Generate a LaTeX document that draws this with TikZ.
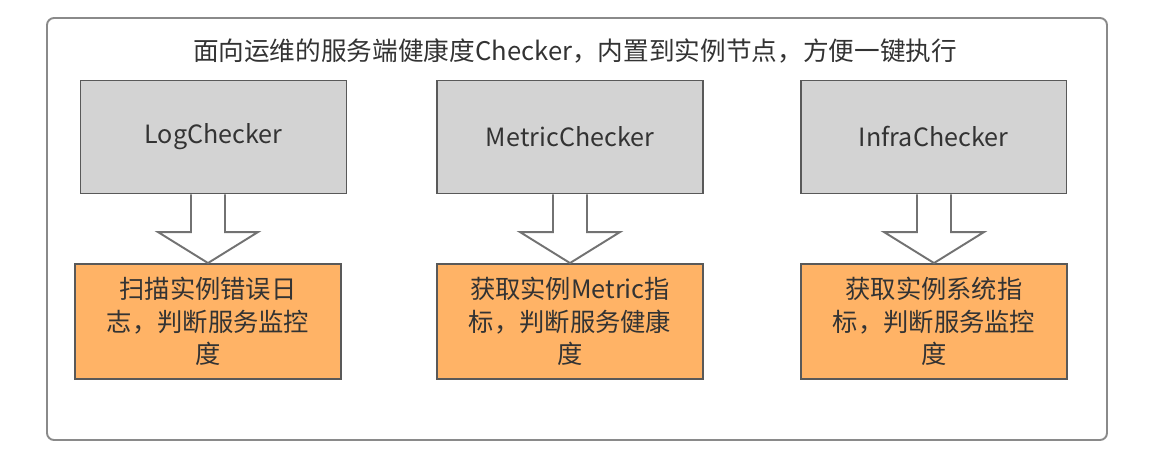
\documentclass[tikz,border=0pt]{standalone}
\usepackage{fontspec}
\setmainfont{Noto Sans CJK SC}
\usetikzlibrary{positioning,calc}

\definecolor{boxgray}{HTML}{D3D3D3}
\definecolor{boxorange}{HTML}{FFB366}
\definecolor{linegray}{HTML}{595959}
\definecolor{framegray}{HTML}{8A8A8A}
\definecolor{textgray}{HTML}{333333}

% hollow block arrow from a checker box down to its task box
\newcommand{\hollowarrow}[2]{%
	\draw[hollow] ($(#1.south -| #2.north)+(-17,0)$) -- ($(#2.north)+(-17,-31)$)
		-- ($(#2.north)+(-50,-31)$) -- (#2.north) -- ($(#2.north)+(50,-31)$)
		-- ($(#2.north)+(17,-31)$) -- ($(#1.south -| #2.north)+(17,0)$);}

\begin{document}
\begin{tikzpicture}[x=0.02cm,y=-0.02cm,
		checker/.style={draw=linegray,line width=1.1pt,fill=boxgray,text=textgray,
			minimum width=5.32cm,minimum height=2.26cm,inner sep=0pt,
			font=\fontsize{14.3}{18}\selectfont},
		task/.style={draw=linegray,line width=1.1pt,fill=boxorange,text=textgray,
			minimum width=5.32cm,minimum height=2.3cm,inner sep=0pt,align=center,
			font=\fontsize{14.4}{18.4}\selectfont},
		hollow/.style={draw=linegray!85,line width=1.1pt,fill=white,line join=miter}]

		\useasboundingbox (0,0) rectangle (1170,466);

		% Outer frame
		\draw[framegray,line width=1.1pt,rounded corners=4pt] (47,18) rectangle (1107,440);

		% Title
		\node[text=textgray,font=\fontsize{14.6}{18}\selectfont] (title) at (575,51)
			{面向运维的服务端健康度Checker，内置到实例节点，方便一键执行};

		% Checkers
		\node[checker] (log) at (213.5,137) {LogChecker};
		\node[checker] (metric) at (570,137) {MetricChecker};
		\node[checker] (infra) at (933.5,137) {InfraChecker};

		% Tasks
		\node[task] (logtask) at (208,321.5) {扫描实例错误日\\志，判断服务监控\\度};
		\node[task] (metrictask) at (570,321.5) {获取实例Metric指\\标，判断服务健康\\度};
		\node[task] (infratask) at (934,321.5) {获取实例系统指\\标，判断服务监控\\度};

		% Arrows
		\hollowarrow{log}{logtask}
		\hollowarrow{metric}{metrictask}
		\hollowarrow{infra}{infratask}

	\end{tikzpicture}
\end{document}
